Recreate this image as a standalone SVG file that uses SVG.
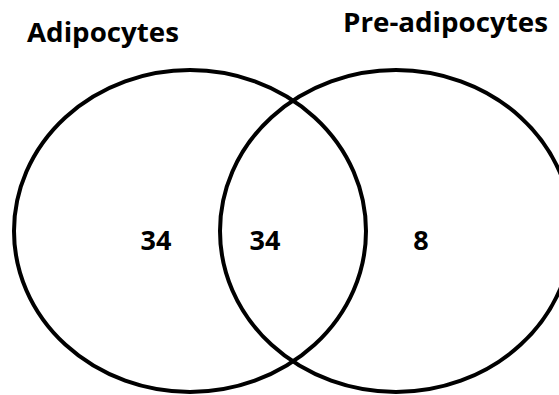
<svg xmlns="http://www.w3.org/2000/svg" width="559" height="395" viewBox="0 0 559 395">
  <style>
    .set { fill: none; stroke: #000; stroke-width: 4; }
    .title { font-family: "Open Sans", "Liberation Sans", sans-serif; font-weight: bold; font-size: 26px; fill: #000; }
    .count { font-family: "Open Sans", "Liberation Sans", sans-serif; font-weight: bold; font-size: 27px; fill: #000; text-anchor: middle; }
  </style>
  <rect width="559" height="395" fill="#fff"/>
  <g id="set-adipocytes">
    <ellipse class="set" cx="190" cy="231" rx="176" ry="161"/>
    <text class="title" x="27" y="42" textLength="152" lengthAdjust="spacingAndGlyphs">Adipocytes</text>
  </g>
  <g id="set-preadipocytes">
    <ellipse class="set" cx="396" cy="231" rx="176" ry="161"/>
    <text class="title" x="343" y="32" textLength="205" lengthAdjust="spacingAndGlyphs">Pre-adipocytes</text>
  </g>
  <g id="counts">
    <text class="count" x="156" y="250">34</text>
    <text class="count" x="265" y="250">34</text>
    <text class="count" x="421" y="250">8</text>
  </g>
</svg>
